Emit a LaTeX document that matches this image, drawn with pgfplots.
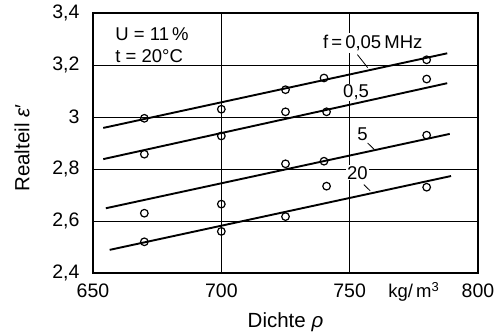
\documentclass[border=0pt]{standalone}
\usepackage{fontspec}
\setmainfont{Liberation Sans}
\usepackage{pgfplots}
\pgfplotsset{compat=1.18}
\begin{document}
\begin{tikzpicture}
\useasboundingbox (-93pt,-62pt) rectangle (401pt,273pt);
\begin{axis}[
  scale only axis, width=385pt, height=260pt,
  xmin=650, xmax=800, ymin=2.4, ymax=3.4,
  xtick={650,700,750,800}, xticklabels={650,700,750,800},
  ytick={2.4,2.6,2.8,3.0,3.2,3.4},
  yticklabels={{2,4},{2,6},{2,8},3,{3,2},{3,4}},
  major tick length=0pt,
  grid=major, grid style={black, line width=0.7pt},
  axis line style={line width=1.2pt},
  /pgf/number format/assume math mode=true,
  ticklabel style={font=\fontsize{19.5}{22}\selectfont},
  xticklabel style={yshift=-7pt},
  yticklabel style={xshift=-10pt},
  xlabel={Dichte \textit{ρ}},
  xlabel style={at={(axis description cs:0.5,-0.19)}, anchor=center, font=\fontsize{20.5}{24}\selectfont},
  ylabel={Realteil \textit{ε}′},
  ylabel style={at={(axis description cs:-0.184,0.48)}, anchor=center, font=\fontsize{20.5}{24}\selectfont},
  clip=false,
]
% labels that break the grid
\node[fill=white, align=left, inner sep=3pt, font=\fontsize{18.5}{22}\selectfont] at (axis cs:673,3.277) {U = 11\,\%\\t = 20°C};
\node[fill=white, inner sep=2pt, font=\fontsize{18.5}{22}\selectfont] at (axis cs:759,3.285) {f\,=\,0,05\,MHz};
\node[fill=white, inner sep=1pt, font=\fontsize{18.5}{22}\selectfont] at (axis cs:752.5,3.095) {0,5};
\node[fill=white, inner sep=1pt, font=\fontsize{18.5}{22}\selectfont] at (axis cs:755,2.935) {5};
\node[fill=white, inner sep=1pt, font=\fontsize{18.5}{22}\selectfont] at (axis cs:753,2.785) {20};
\node[font=\fontsize{18.5}{22}\selectfont, anchor=north] at (axis cs:775,2.4) [yshift=-6pt] {kg/\,m\textsuperscript{3}};
% leader lines
\draw[line width=0.8pt] (axis cs:753,3.24) -- (axis cs:757,3.19);
\draw[line width=0.8pt] (axis cs:757,2.9) -- (axis cs:759.5,2.876);
\draw[line width=0.8pt] (axis cs:755.5,2.74) -- (axis cs:758,2.716);
% fitted lines
\addplot[black, line width=1.9pt] coordinates {(654,2.958) (788,3.245)};
\addplot[black, line width=1.9pt] coordinates {(654,2.838) (788,3.13)};
\addplot[black, line width=1.9pt] coordinates {(655,2.649) (789,2.935)};
\addplot[black, line width=1.9pt] coordinates {(656.5,2.489) (789.5,2.773)};
% measured points
\addplot[only marks, mark=o, mark size=3.8pt, mark options={line width=1.2pt, fill=white, draw=black}]
 coordinates {(670,2.995) (700,3.03) (725,3.105) (740,3.15) (780,3.22)};
\addplot[only marks, mark=o, mark size=3.8pt, mark options={line width=1.2pt, fill=white, draw=black}]
 coordinates {(670,2.857) (700,2.927) (725,3.02) (741,3.02) (780,3.146)};
\addplot[only marks, mark=o, mark size=3.8pt, mark options={line width=1.2pt, fill=white, draw=black}]
 coordinates {(670,2.63) (700,2.665) (725,2.82) (740,2.83) (780,2.93)};
\addplot[only marks, mark=o, mark size=3.8pt, mark options={line width=1.2pt, fill=white, draw=black}]
 coordinates {(670,2.52) (700,2.56) (725,2.617) (741,2.734) (780,2.73)};
\end{axis}
\end{tikzpicture}
\end{document}
